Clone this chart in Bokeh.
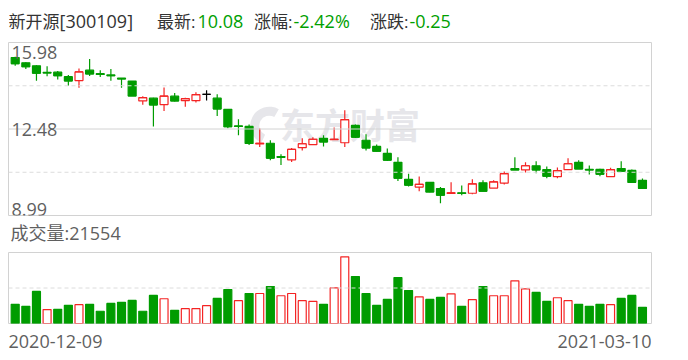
import math
from bokeh.plotting import figure
from bokeh.models import Range1d, Span, ColumnDataSource, Label
from bokeh.layouts import column
from bokeh.embed import file_html
from bokeh.resources import INLINE
from bokeh.core.properties import value

# ---------------- data ----------------
stock_name = "新开源"
stock_code = "300109"

opens = [15.37, 15.16, 15.04, 14.77, 14.78, 14.60, 14.44, 14.86, 14.72, 14.67,
         14.54, 14.42, 13.62, 13.73, 13.47, 13.81, 13.63, 13.63, 13.88, 13.73,
         13.28, 12.61, 12.59, 11.88, 11.91, 11.37, 11.24, 11.73, 11.85, 12.11,
         12.05, 11.93, 12.63, 12.03, 11.78, 11.50, 11.14, 10.45, 10.14, 10.33,
         10.08, 9.88, 9.91, 9.89, 10.31, 10.10, 10.30, 10.88, 10.83, 11.00,
         10.84, 10.56, 10.84, 11.14, 10.85, 10.85, 10.56, 10.89, 10.81, 10.41]
highs = [15.40, 15.18, 15.06, 15.02, 14.83, 14.67, 14.93, 15.31, 14.86, 14.91,
         14.54, 14.42, 13.81, 13.75, 14.16, 13.94, 13.75, 13.97, 14.05, 13.89,
         13.28, 12.88, 12.67, 12.51, 12.03, 11.46, 11.72, 12.11, 12.15, 12.23,
         12.55, 13.24, 12.67, 12.27, 11.86, 11.70, 11.34, 10.68, 10.57, 10.33,
         10.14, 10.33, 10.20, 10.45, 10.41, 10.41, 10.77, 11.34, 11.14, 11.18,
         10.97, 10.93, 11.30, 11.22, 11.01, 10.88, 10.92, 11.18, 10.85, 10.49]
lows = [15.04, 14.91, 14.43, 14.62, 14.48, 14.23, 14.15, 14.63, 14.59, 14.43,
        14.15, 13.82, 13.46, 12.59, 13.21, 13.60, 13.38, 13.56, 13.64, 13.01,
        12.52, 12.23, 11.84, 11.76, 11.22, 11.03, 11.15, 11.62, 11.85, 11.78,
        12.05, 11.76, 12.12, 11.62, 11.58, 11.19, 10.38, 10.16, 9.97, 9.93,
        9.49, 9.87, 9.81, 9.85, 9.97, 10.10, 10.24, 10.83, 10.73, 10.70,
        10.50, 10.50, 10.84, 10.87, 10.65, 10.58, 10.56, 10.78, 10.30, 10.06]
closes = [15.13, 15.00, 14.74, 14.75, 14.64, 14.43, 14.79, 14.71, 14.69, 14.64,
          14.51, 13.82, 13.75, 13.46, 13.81, 13.62, 13.71, 13.87, 13.88, 13.30,
          12.58, 12.59, 11.90, 11.91, 11.31, 11.34, 11.66, 11.89, 12.07, 11.96,
          12.07, 12.86, 12.16, 11.72, 11.59, 11.23, 10.50, 10.22, 10.25, 9.94,
          9.81, 9.91, 9.88, 10.27, 9.97, 10.35, 10.68, 10.83, 11.00, 10.83,
          10.58, 10.80, 11.08, 10.87, 10.83, 10.66, 10.84, 10.78, 10.33, 10.08]
volumes = [25500, 22900, 42700, 18500, 18900, 24200, 25100, 25500, 16300, 26800,
           28200, 30800, 16300, 37400, 33000, 17600, 19800, 19800, 23800, 33400,
           45300, 30400, 40000, 40000, 49300, 37000, 40000, 30400, 29500, 25500,
           47500, 88900, 62500, 40000, 24200, 32100, 61200, 44000, 35600, 32100,
           34800, 39600, 22900, 31700, 49300, 37000, 37000, 56800, 46200, 41400,
           29500, 34300, 30400, 25500, 22900, 25500, 25100, 33400, 37400, 21554]

price_ticks = [15.98, 12.48, 8.99]
date_labels = ["2020-12-09", "2021-03-10"]
volume_axis_max = 94600

# ---------------- style ----------------
GREEN = "#009c00"
RED = "#f42424"
TXT_GREEN = "#00a000"
DARK = "#333333"
GRAY = "#5f5f5f"
FRAME = "#d2d2d2"
DASH = "#dcdcdc"
WM = "#e6e6ea"
FONT = "Open Sans, Noto Sans CJK SC"
FS = "18px"
FS_CJK = "17px"
BODY_W = 0.75
LEFT, RIGHT, W = 8, 37, 688

n = len(closes)
idx = list(range(n))

# candle colours (close vs open)
c_line, c_fill = [], []
for o, c in zip(opens, closes):
    if c > o:
        c_line.append(RED); c_fill.append("white")
    elif c < o:
        c_line.append(GREEN); c_fill.append(GREEN)
    else:
        c_line.append("black"); c_fill.append("black")

# volume colours (close vs previous close)
prev_close = [opens[0]] + closes[:-1]
v_line, v_fill = [], []
for c, pc in zip(closes, prev_close):
    if c >= pc:
        v_line.append(RED); v_fill.append("white")
    else:
        v_line.append(GREEN); v_fill.append(GREEN)


def bare(h, xr, yr, top=0, bottom=0):
    f = figure(width=W, height=h, x_range=xr, y_range=yr,
               output_backend="svg", toolbar_location=None,
               x_axis_location=None, y_axis_location=None,
               min_border_left=LEFT, min_border_right=RIGHT,
               min_border_top=top, min_border_bottom=bottom)
    f.grid.visible = False
    f.outline_line_color = None
    f.background_fill_color = "white"
    f.border_fill_color = "white"
    return f


def txt(fig, x, y, t, color, size=FS, align="left", baseline="middle"):
    fig.text(x=[x], y=[y], text=[t], text_font=value(FONT), text_font_size=size,
             text_color=color, text_baseline=baseline, text_align=align)


def pix_range():
    # text strips use pixel-like coordinates over the same (aligned) frame
    return Range1d(LEFT, W - RIGHT)


# ---------------- header ----------------
last = closes[-1]
chg = closes[-1] - closes[-2]
pct = chg / closes[-2] * 100
head = bare(40, pix_range(), Range1d(40, 0))
txt(head, 8, 20.5, stock_name, DARK, FS_CJK)
txt(head, 59, 20.5, f"[{stock_code}]", DARK)
txt(head, 195, 20.5, "最新:", DARK, FS_CJK, align="right")
txt(head, 197, 20.5, f"{last:.2f}", TXT_GREEN)
txt(head, 292, 20.5, "涨幅:", DARK, FS_CJK, align="right")
txt(head, 293, 20.5, f"{pct:.2f}%", TXT_GREEN)
txt(head, 408, 20.5, "涨跌:", DARK, FS_CJK, align="right")
txt(head, 409, 20.5, f"{chg:.2f}", TXT_GREEN)

# ---------------- price panel ----------------
xr = Range1d(-0.63, n - 1 + 0.85)
ymin, ymax = min(price_ticks), max(price_ticks)
p = bare(180, xr, Range1d(ymin, ymax), top=2, bottom=5)
p.outline_line_color = FRAME
p.outline_line_width = 1

mid = (ymin + ymax) / 2
for lvl in [(ymax + mid) / 2, (ymin + mid) / 2]:
    p.add_layout(Span(location=lvl, dimension="width", line_color=DASH,
                      line_width=1, line_dash="4 3"))
p.add_layout(Span(location=mid, dimension="width", line_color=FRAME, line_width=1))

# watermark (logo swirl + wordmark)
p.annular_wedge(x=[23.9], y=[12.62], inner_radius=10, outer_radius=19,
                inner_radius_units="screen", outer_radius_units="screen",
                start_angle=math.radians(60), end_angle=math.radians(245),
                fill_color=WM, line_color=None)
p.text(x=[24.9], y=[12.69], text=["东方财富"], text_font=value("Noto Sans CJK SC"),
       text_font_size="35px", text_font_style="bold", text_color=WM,
       text_baseline="middle", text_align="left")

src = ColumnDataSource(dict(
    x=idx, o=opens, h=highs, l=lows, c=closes,
    top=[max(o, c) for o, c in zip(opens, closes)],
    bot=[min(o, c) for o, c in zip(opens, closes)],
    x0=[i - BODY_W / 2 for i in idx], x1=[i + BODY_W / 2 for i in idx],
    col=c_line, fill=c_fill,
))
p.segment(x0="x", y0="h", x1="x", y1="l", line_color="col", line_width=1.2, source=src)
p.vbar(x="x", width=BODY_W, top="top", bottom="bot", fill_color="fill",
       line_color="col", line_width=1.2, source=src)
p.segment(x0="x0", y0="c", x1="x1", y1="c", line_color="col", line_width=1.2, source=src)

for t, bl, yo in zip(price_ticks, ["top", "middle", "bottom"], [-3, 0, 0]):
    p.add_layout(Label(x=xr.start, y=t, x_offset=3, y_offset=yo, text=f"{t:.2f}",
                       text_font=FONT, text_font_size=FS, text_color=GRAY,
                       text_baseline=bl, text_align="left"))

# ---------------- volume label ----------------
vl = bare(30, pix_range(), Range1d(30, 0))
txt(vl, 10, 12.5, f"成交量:{volumes[-1]}", GRAY)

# ---------------- volume panel ----------------
v = bare(76, xr, Range1d(0, volume_axis_max), top=2, bottom=3)
v.outline_line_color = FRAME
v.outline_line_width = 1
v.add_layout(Span(location=volume_axis_max / 2, dimension="width", line_color=DASH,
                  line_width=1, line_dash="4 3"))
vsrc = ColumnDataSource(dict(x=idx, vol=volumes, col=v_line, fill=v_fill))
v.vbar(x="x", width=BODY_W, top="vol", bottom=0, fill_color="fill",
       line_color="col", line_width=1.2, source=vsrc)

# ---------------- dates ----------------
d = bare(34, pix_range(), Range1d(34, 0))
txt(d, 8, 14.5, date_labels[0], GRAY)
txt(d, 651, 14.5, date_labels[1], GRAY, align="right")

layout = column(head, p, vl, v, d, spacing=0)
open("out.html", "w").write(file_html(layout, INLINE))
